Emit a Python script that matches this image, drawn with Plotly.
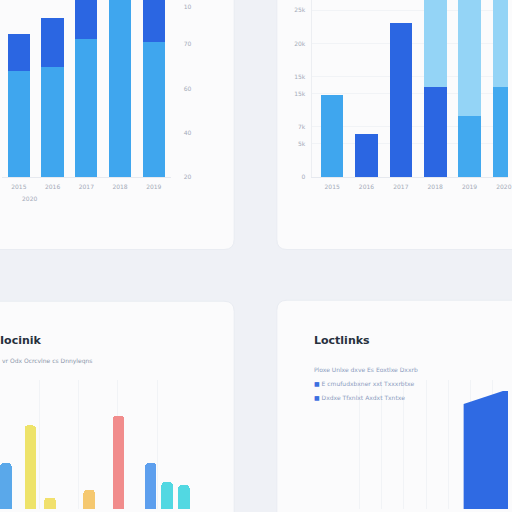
import plotly.graph_objects as go

# Top-left: stacked bars, axis on the right
tl_years = ["2015", "2016", "2017", "2018", "2019"]
tl_base = [60, 62, 78, 104, 76]
tl_top = [21, 28, 30, 10, 30]
tl_ticks = [0, 25, 50, 75, 96]
tl_ticktext = ["20", "40", "60", "70", "10"]

# Top-right: stacked bars, axis on the left
tr_years = ["2015", "2016", "2017", "2018", "2019", "2020"]
tr_base = [122, 65, 231, 135, 91, 135]
tr_top = [0, 0, 0, 150, 200, 150]
tr_ticks = [0, 50, 75, 125, 150, 200, 250]
tr_ticktext = ["0", "5k", "7k", "15k", "15k", "20k", "25k"]

# Bottom-left: coloured column chart
bl_pos = [0.36, 1.85, 3.06, 5.45, 7.24, 9.21, 10.21, 11.24]
bl_vals = [47, 71, 25, 30, 77, 47, 35, 33]

# Bottom-right: area block
br_x = [7.4, 7.4, 9.7, 10.5]
br_y = [0, 85, 93, 93]

BG = "#eff1f6"
CARD = "#fbfbfc"
LIGHT = "#3fa6ee"
DARK = "#2b66e2"
SKY = "#94d4f6"
MID = "#42a9ef"
GRID = "#f1f3f6"
TICK = "#a3aab8"

tr_colors = [LIGHT, DARK, DARK, DARK, MID, MID]
bl_colors = ["#5aa8ea", "#eee36a", "#f1e06d", "#f5c870", "#f18c8c", "#5d9fee", "#52d8e2", "#52d8e2"]


def card(x0, y0, x1, y1, r=0.02):
    # rounded rectangle in paper coords
    return (f"M{x0+r},{y0} L{x1-r},{y0} Q{x1},{y0} {x1},{y0+r} "
            f"L{x1},{y1-r} Q{x1},{y1} {x1-r},{y1} L{x0+r},{y1} "
            f"Q{x0},{y1} {x0},{y1-r} L{x0},{y0+r} Q{x0},{y0} {x0+r},{y0} Z")


fig = go.Figure()

fig.add_trace(go.Bar(x=tl_years, y=tl_base, marker_color=LIGHT, xaxis="x", yaxis="y"))
fig.add_trace(go.Bar(x=tl_years, y=tl_top, marker_color=DARK, xaxis="x", yaxis="y"))

fig.add_trace(go.Bar(x=tr_years, y=tr_base, marker_color=tr_colors, xaxis="x2", yaxis="y2"))
fig.add_trace(go.Bar(x=tr_years, y=tr_top, marker_color=SKY, xaxis="x2", yaxis="y2"))

fig.add_trace(go.Bar(x=bl_pos, y=bl_vals, width=0.7, marker_color=bl_colors,
                     marker_cornerradius=4, xaxis="x3", yaxis="y3"))

fig.add_trace(go.Scatter(x=br_x, y=br_y, mode="lines", fill="tozeroy",
                         line=dict(width=0, color="#2f6ae3"), fillcolor="#2f6ae3",
                         xaxis="x4", yaxis="y4"))

small = dict(size=6, color=TICK, family="DejaVu Sans")

fig.update_layout(
    width=512, height=512,
    margin=dict(l=0, r=0, t=0, b=0, pad=0),
    paper_bgcolor=BG, plot_bgcolor="rgba(0,0,0,0)",
    barmode="stack", bargap=0.34, showlegend=False,
    xaxis=dict(domain=[2/512, 172/512], range=[-0.5, 4.5], anchor="y",
               showline=True, linecolor="#e6e9ef", showgrid=False, tickfont=small,
               ticks="outside", ticklen=4, tickcolor="rgba(0,0,0,0)"),
    yaxis=dict(domain=[1-178/512, 1], range=[0, 100], anchor="x", side="right",
               tickvals=tl_ticks, ticktext=tl_ticktext, showgrid=False, zeroline=False,
               tickfont=small, ticklabelstandoff=12),
    xaxis2=dict(domain=[314/512, 1], range=[-0.6, 5.12], anchor="y2",
                showline=True, linecolor="#e6e9ef", showgrid=False, tickfont=small,
                ticks="outside", ticklen=4, tickcolor="rgba(0,0,0,0)"),
    yaxis2=dict(domain=[1-178/512, 1], range=[0, 265], anchor="x2",
                tickvals=tr_ticks, ticktext=tr_ticktext, showgrid=True, gridcolor=GRID,
                showline=True, linecolor="#eceef2", zeroline=False,
                tickfont=small, ticklabelstandoff=4),
    xaxis3=dict(domain=[0, 193/512], range=[0, 11.7], anchor="y3",
                showgrid=True, gridcolor=GRID, dtick=2.4, showticklabels=False, zeroline=False),
    yaxis3=dict(domain=[0, 1-382/512], range=[17.7, 100], anchor="x3",
                showgrid=True, gridcolor=GRID, dtick=100, showticklabels=False, zeroline=False),
    xaxis4=dict(domain=[340/512, 1], range=[0, 10], anchor="y4",
                showgrid=True, gridcolor=GRID, dtick=1.3, showticklabels=False, zeroline=False),
    yaxis4=dict(domain=[0, 1-382/512], range=[20, 100], anchor="x4",
                showgrid=True, gridcolor=GRID, dtick=100, showticklabels=False, zeroline=False),
)

fig.update_traces(selector=dict(type="bar"), marker_line_width=0)

# cards
for x0, y0, x1, y1 in [(-0.05, 1-251/512, 236/512, 1.05),
                       (279/512, 1-251/512, 1.1, 1.05),
                       (-0.05, -0.05, 236/512, 1-303/512),
                       (279/512, -0.05, 1.1, 1-302/512)]:
    fig.add_shape(type="path", path=card(x0, y0, x1, y1), xref="paper", yref="paper",
                  fillcolor=CARD, line=dict(color="#e9ecf2", width=1), layer="below")

fig.add_annotation(x=20/512, y=1-200/512, xref="paper", yref="paper", text="2020",
                   showarrow=False, font=small)

title_font = dict(size=11, color="#27303d", family="DejaVu Sans", weight="bold")
fig.add_annotation(x=-2/512, y=1-351/512, xref="paper", yref="paper", text="Iocinik",
                   xanchor="left", showarrow=False, font=title_font)
fig.add_annotation(x=0, y=1-369/512, xref="paper", yref="paper",
                   text="vr Odx Ocrcvlne cs Dnnyleqns", xanchor="left", showarrow=False,
                   font=dict(size=6, color="#8c96aa", family="DejaVu Sans"))

fig.add_annotation(x=314/512, y=1-351/512, xref="paper", yref="paper", text="Loctlinks",
                   xanchor="left", showarrow=False, font=title_font)
legend_font = dict(size=6, color="#8c9bc0", family="DejaVu Sans")
fig.add_annotation(x=314/512, y=1-377/512, xref="paper", yref="paper",
                   text="Ploxe Unlxe dxve Es Eoxtlxe Dxxrb", xanchor="left",
                   showarrow=False, font=legend_font)
fig.add_annotation(x=314/512, y=1-391/512, xref="paper", yref="paper",
                   text="<span style='color:#3b6fe0'>■</span> E cmufudxbxner xxt Txxxrbtxe",
                   xanchor="left", showarrow=False, font=legend_font)
fig.add_annotation(x=314/512, y=1-405/512, xref="paper", yref="paper",
                   text="<span style='color:#3b6fe0'>■</span> Dxdxe Tfxnlxt Axdxt Txntxe",
                   xanchor="left", showarrow=False, font=legend_font)

# page body has a default margin; remove it so the figure fills the window
fig.write_html("out.html", config={"displayModeBar": False},
               post_script="document.body.style.margin='0px';")
